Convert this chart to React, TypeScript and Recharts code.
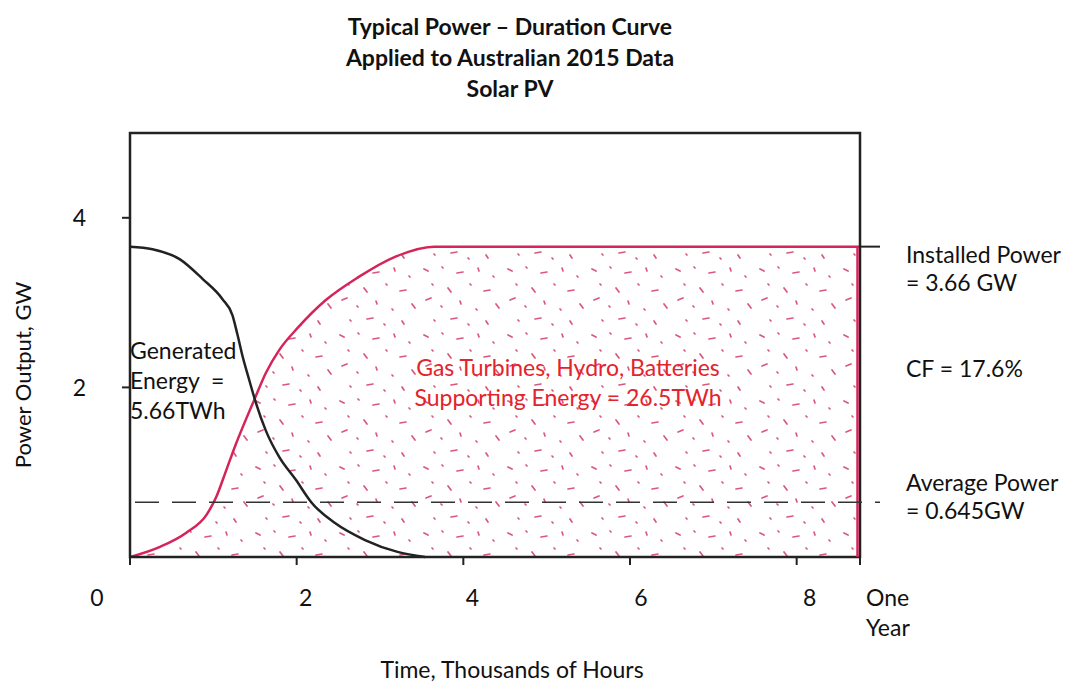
import {
  ComposedChart,
  Area,
  Line,
  XAxis,
  YAxis,
  ReferenceArea,
  ReferenceLine,
} from "recharts";

// thousands of hours / GW
const pvHours = [0, 0.27, 0.6, 0.87, 1.11, 1.23, 1.29, 1.35, 1.43, 1.51, 1.63, 1.79, 1.99, 2.18, 2.46, 2.82, 3.21, 3.54];
const pvPower = [3.66, 3.63, 3.51, 3.28, 3.04, 2.85, 2.62, 2.37, 2.09, 1.82, 1.49, 1.18, 0.91, 0.64, 0.4, 0.2, 0.06, 0];

const supportHours = [0, 0.36, 0.68, 0.92, 1.04, 1.15, 1.27, 1.39, 1.49, 1.63, 1.79, 2.02, 2.35, 2.74, 3.18, 3.65, 8.76];
const supportPower = [0, 0.12, 0.29, 0.5, 0.72, 1.01, 1.33, 1.62, 1.85, 2.17, 2.44, 2.71, 3.03, 3.3, 3.54, 3.66, 3.66];

const xTicks = [0, 2, 4, 6, 8, 8.76];
const xTickLabels = ["0", "2", "4", "6", "8", "One|Year"];
const yTicks = [2, 4];

const installedPower = 3.66;
const averagePower = 0.645;
const oneYear = 8.76;

const pvData = pvHours.map((h, i) => ({ h, p: pvPower[i] }));
const supportData = supportHours.map((h, i) => ({ h, p: supportPower[i] }));

const FONT = "Lato, 'Open Sans', sans-serif";
const RED_LINE = "#d4245a";
const RED_TEXT = "#e5232c";

// hand-made nudges so the labels sit like the sketch
const tickShift: Record<string, number> = { "0": -33, "2": 9, "4": 9, "6": 11, "8": 13 };

function XTick(props: any) {
  const { x, y, payload } = props;
  const idx = xTicks.indexOf(payload.value);
  const label = xTickLabels[idx] ?? String(payload.value);
  if (label.includes("|")) {
    const [a, b] = label.split("|");
    return (
      <g>
        <text x={x + 6} y={y + 39} fontSize={23} fontFamily={FONT} fill="#111">
          {a}
        </text>
        <text x={x + 6} y={y + 69} fontSize={23} fontFamily={FONT} fill="#111">
          {b}
        </text>
      </g>
    );
  }
  return (
    <text
      x={x + (tickShift[label] ?? 0)}
      y={y + 39}
      textAnchor="middle"
      fontSize={23}
      fontFamily={FONT}
      fill="#111"
    >
      {label}
    </text>
  );
}

const note = (top: number, left: number, lh = 30, color = "#111"): React.CSSProperties => ({
  position: "absolute",
  top,
  left,
  fontFamily: FONT,
  fontSize: 23,
  lineHeight: `${lh}px`,
  color,
  whiteSpace: "nowrap",
});

export default function App() {
  return (
    <div style={{ position: "absolute", left: 0, top: 0, width: 1065, height: 683, background: "#fff", overflow: "hidden" }}>
      <div
        style={{
          position: "absolute",
          top: 11,
          left: 0,
          width: 1020,
          textAlign: "center",
          fontFamily: FONT,
          fontWeight: 700,
          fontSize: 23,
          lineHeight: "31px",
          color: "#111",
        }}
      >
        Typical Power – Duration Curve
        <br />
        Applied to Australian 2015 Data
        <br />
        Solar PV
      </div>

      <ComposedChart
        width={1065}
        height={683}
        margin={{ top: 133, right: 205, bottom: 86, left: 100 }}
      >
        <defs>
          <pattern id="stipple" width="84" height="66" patternUnits="userSpaceOnUse">
            <g stroke="#d6446f" strokeWidth="1.7" strokeLinecap="round" opacity="0.9">
              <line x1="4" y1="5" x2="8" y2="7" />
              <line x1="22" y1="3" x2="23" y2="4" />
              <line x1="37" y1="9" x2="43" y2="8" />
              <line x1="58" y1="4" x2="59" y2="7" />
              <line x1="73" y1="12" x2="74" y2="13" />
              <line x1="12" y1="20" x2="13" y2="21" />
              <line x1="28" y1="24" x2="31" y2="28" />
              <line x1="50" y1="20" x2="51" y2="21" />
              <line x1="64" y1="27" x2="70" y2="26" />
              <line x1="6" y1="36" x2="11" y2="34" />
              <line x1="21" y1="42" x2="22" y2="43" />
              <line x1="40" y1="37" x2="41" y2="40" />
              <line x1="56" y1="45" x2="57" y2="46" />
              <line x1="76" y1="40" x2="79" y2="44" />
              <line x1="14" y1="56" x2="15" y2="57" />
              <line x1="31" y1="55" x2="37" y2="54" />
              <line x1="48" y1="60" x2="49" y2="61" />
              <line x1="66" y1="57" x2="68" y2="60" />
            </g>
          </pattern>
        </defs>

        <XAxis
          type="number"
          dataKey="h"
          domain={[0, oneYear]}
          ticks={xTicks}
          height={40}
          axisLine={false}
          tickLine={{ stroke: "#222", strokeWidth: 2 }}
          tickSize={8}
          tick={<XTick />}
          allowDataOverflow
        />
        <YAxis
          type="number"
          domain={[0, 5]}
          ticks={yTicks}
          width={30}
          axisLine={false}
          tickLine={{ stroke: "#222", strokeWidth: 2 }}
          tickSize={8}
          tick={{ fontSize: 23, fontFamily: FONT, fill: "#111", dx: -34 }}
        />

        <Area
          data={supportData}
          dataKey="p"
          type="monotone"
          stroke={RED_LINE}
          strokeWidth={2.5}
          fill="url(#stipple)"
          fillOpacity={1}
          isAnimationActive={false}
          dot={false}
          activeDot={false}
        />
        <ReferenceLine
          segment={[
            { x: oneYear - 0.03, y: 0 },
            { x: oneYear - 0.03, y: installedPower },
          ]}
          stroke={RED_LINE}
          strokeWidth={2.5}
        />
        <Line
          data={pvData}
          dataKey="p"
          type="monotone"
          stroke="#222"
          strokeWidth={2.5}
          dot={false}
          activeDot={false}
          isAnimationActive={false}
        />

        <ReferenceLine
          segment={[
            { x: 0.06, y: averagePower },
            { x: 9.0, y: averagePower },
          ]}
          stroke="#333"
          strokeWidth={1.6}
          strokeDasharray="24 13"
          ifOverflow="visible"
        />
        <ReferenceLine
          segment={[
            { x: oneYear, y: installedPower },
            { x: 9.0, y: installedPower },
          ]}
          stroke="#222"
          strokeWidth={2}
          ifOverflow="visible"
        />

        <ReferenceArea
          x1={0}
          x2={oneYear}
          y1={0}
          y2={5}
          fill="none"
          stroke="#222"
          strokeWidth={2.5}
          ifOverflow="visible"
        />
      </ComposedChart>

      <div
        style={{
          position: "absolute",
          left: 22,
          top: 375,
          transform: "translate(-50%, -50%) rotate(-90deg)",
          fontFamily: FONT,
          fontSize: 22,
          color: "#111",
          whiteSpace: "nowrap",
        }}
      >
        Power Output, GW
      </div>
      <div style={{ ...note(657, 0, 24), width: 1024, textAlign: "center" }}>
        Time, Thousands of Hours
      </div>

      <div style={note(335, 130)}>
        Generated
        <br />
        Energy&nbsp; =
        <br />
        5.66TWh
      </div>
      <div style={{ ...note(352, 368, 30, RED_TEXT), width: 400, textAlign: "center" }}>
        Gas Turbines, Hydro, Batteries
        <br />
        Supporting Energy = 26.5TWh
      </div>

      <div style={note(240, 906, 28)}>
        Installed Power
        <br />= 3.66 GW
      </div>
      <div style={note(354, 906, 28)}>CF = 17.6%</div>
      <div style={note(468, 906, 28)}>
        Average Power
        <br />= 0.645GW
      </div>
    </div>
  );
}
